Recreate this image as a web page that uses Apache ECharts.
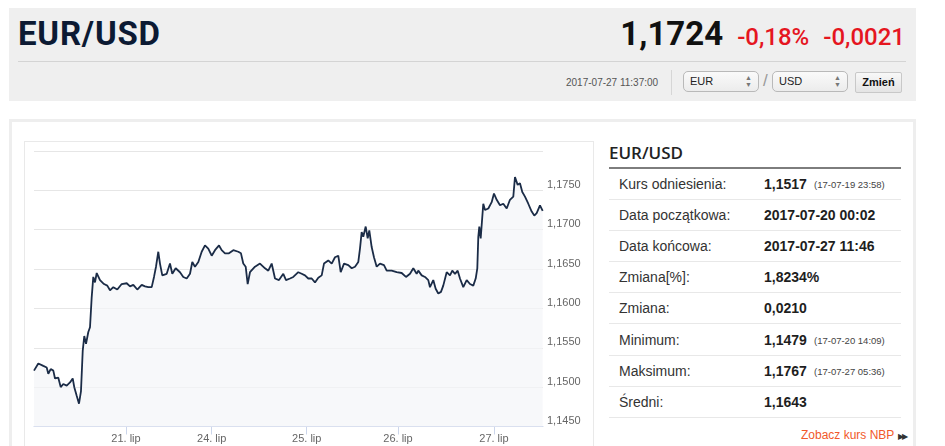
<!DOCTYPE html>
<html>
<head>
<meta charset="utf-8">
<script src="https://cdn.jsdelivr.net/npm/echarts@6/dist/echarts.min.js"></script>
<style>
  html, body { margin:0; padding:0; background:#fff; width:945px; height:446px; overflow:hidden; font-family:"Liberation Sans", Arial, sans-serif; }
  .abs { position:absolute; }
  #hdr { left:9px; top:8px; width:907px; height:93px; background:#efefef; }
  #title { left:18px; top:14px; font-family:Roboto, "Liberation Sans", sans-serif; font-weight:700; font-size:33px; color:#0c1a33; letter-spacing:0.8px; }
  #price { right:40px; top:14px; font-family:Roboto, "Liberation Sans", sans-serif; font-size:33px; white-space:nowrap; }
  #price .v { color:#111; font-weight:700; }
  #price .r { color:#e5161f; font-size:24px; font-weight:500; margin-left:14px; }
  #sep { left:18px; top:61px; width:888px; height:1px; background:#d4d4d4; }
  #stamp { left:566px; top:77px; font-size:10px; color:#555; }
  #vsep { left:671px; top:70px; width:1px; height:25px; background:#d6d6d6; }
  .sel { top:71px; height:21px; border:1px solid #b9b9b9; border-radius:5px; background:linear-gradient(#fafafa,#ececec); font-size:11px; color:#222; box-sizing:border-box; }
  .sel span.t { position:absolute; left:6px; top:3px; }
  .sel span.a { position:absolute; right:6px; top:2px; font-size:7px; line-height:7px; color:#777; }
  #slash { left:763px; top:71px; font-size:17px; color:#999; }
  #btn { left:855px; top:72px; width:47px; height:21px; border:1px solid #c8c8c8; border-radius:2px; background:linear-gradient(#f8f8f8,#e4e4e4); font-size:11px; font-weight:700; color:#111; box-sizing:border-box; text-align:center; line-height:19px; }
  #panel { left:9px; top:119px; width:907px; height:340px; border:3px solid #eeeeee; box-sizing:border-box; }
  #chartbox { left:24px; top:141px; width:570px; height:320px; border:1px solid #e9e9e9; box-sizing:border-box; }
  #chart { left:24px; top:141px; width:570px; height:305px; }
  #th { left:609px; top:141px; font-family:"Open Sans", sans-serif; font-weight:600; font-size:17px; color:#222; }
  #thl { left:609px; top:167px; width:292px; height:2px; background:#7d7d7d; }
  .row { left:609px; width:292px; height:31px; border-bottom:1px solid #e8e8e8; box-sizing:border-box; font-size:14px; }
  .row .l { position:absolute; left:10px; top:7px; color:#333; }
  .row .v { position:absolute; left:155px; top:7px; color:#1e1e1e; font-weight:700; }
  .row .p { position:absolute; left:205px; top:10px; color:#444; font-size:9.5px; }
  #nbp { left:801px; top:428px; font-size:12px; color:#f1592a; }
  #nbp span { color:#333; font-size:8px; letter-spacing:-2px; margin-left:4px; }
</style>
</head>
<body>
<div id="hdr" class="abs"></div>
<div id="title" class="abs">EUR/USD</div>
<div id="price" class="abs"><span class="v">1,1724</span><span class="r">-0,18%</span><span class="r">-0,0021</span></div>
<div id="sep" class="abs"></div>
<div id="stamp" class="abs">2017-07-27 11:37:00</div>
<div id="vsep" class="abs"></div>
<div class="abs sel" style="left:683px;width:76px;"><span class="t">EUR</span><span class="a">▲<br>▼</span></div>
<div id="slash" class="abs">/</div>
<div class="abs sel" style="left:772px;width:76px;"><span class="t">USD</span><span class="a">▲<br>▼</span></div>
<div id="btn" class="abs">Zmień</div>

<div id="panel" class="abs"></div>
<div id="chartbox" class="abs"></div>
<div id="chart" class="abs"></div>

<div id="th" class="abs">EUR/USD</div>
<div id="thl" class="abs"></div>
<div id="rows"></div>
<div id="nbp" class="abs">Zobacz kurs NBP<span>▶▶</span></div>

<script>
// Ordinal trading-time position (hours along the axis) and EUR/USD rate
const hours = [0,1.12,2.43,3.31,3.73,4.36,5.04,5.48,6.34,6.97,7.64,8.53,9.39,10.10,10.51,11.14,11.74,12.26,12.71,13.12,13.57,14.17,14.61,15.05,15.47,15.91,16.36,17.22,18.26,19.12,19.83,20.69,21.73,22.88,24.19,25.05,25.91,26.95,28.10,28.96,29.82,30.71,31.31,31.83,32.43,32.87,33.47,34.62,35.48,36.08,36.97,38.09,38.95,39.84,40.70,41.30,42.00,42.87,43.75,44.61,45.47,46.36,47.22,48.27,48.97,49.83,50.87,52.00,53.30,54.00,54.60,55.23,55.75,56.35,57.66,58.96,60.27,61.13,62.01,62.88,63.92,65.04,65.75,66.79,67.65,68.95,69.84,70.70,71.56,72.45,73.31,74.17,75.06,75.66,76.78,77.67,78.53,79.39,80.02,80.88,82.00,82.89,83.75,84.61,85.05,85.49,85.91,86.54,87.06,87.48,88.10,88.70,89.41,90.27,91.31,92.02,93.32,94.63,95.93,97.05,98.10,98.96,99.84,100.26,101.15,102.01,102.87,103.31,104.17,104.80,105.48,106.18,106.78,107.67,108.53,109.13,109.84,110.54,111.14,112.00,112.89,113.75,114.61,115.24,115.66,115.92,116.18,116.54,117.22,117.66,118.53,119.41,120.01,120.72,121.58,122.44,123.33,124.18,125.05,125.49,126.19,126.79,127.40,128.10,128.96,129.85,130.53,131.15,132.01,132.72];
const rates = [1.1521,1.1530,1.1527,1.1525,1.1517,1.1523,1.1521,1.1511,1.1512,1.1500,1.1504,1.1502,1.1506,1.1511,1.1500,1.1489,1.1479,1.1495,1.1546,1.1565,1.1555,1.1570,1.1576,1.1614,1.1640,1.1633,1.1645,1.1636,1.1631,1.1629,1.1623,1.1627,1.1624,1.1631,1.1632,1.1628,1.1630,1.1624,1.1630,1.1628,1.1627,1.1627,1.1640,1.1653,1.1672,1.1657,1.1642,1.1644,1.1657,1.1644,1.1651,1.1646,1.1640,1.1638,1.1644,1.1659,1.1653,1.1659,1.1672,1.1680,1.1676,1.1667,1.1674,1.1680,1.1674,1.1670,1.1670,1.1674,1.1672,1.1670,1.1657,1.1653,1.1631,1.1646,1.1653,1.1657,1.1651,1.1648,1.1657,1.1638,1.1636,1.1644,1.1636,1.1638,1.1640,1.1646,1.1644,1.1642,1.1638,1.1638,1.1633,1.1639,1.1642,1.1657,1.1661,1.1657,1.1665,1.1667,1.1646,1.1657,1.1655,1.1651,1.1653,1.1659,1.1676,1.1697,1.1691,1.1704,1.1689,1.1699,1.1678,1.1665,1.1653,1.1657,1.1655,1.1648,1.1648,1.1646,1.1645,1.1640,1.1644,1.1651,1.1644,1.1648,1.1642,1.1640,1.1636,1.1627,1.1636,1.1625,1.1619,1.1621,1.1629,1.1646,1.1642,1.1648,1.1644,1.1648,1.1638,1.1627,1.1636,1.1631,1.1629,1.1638,1.1651,1.1691,1.1704,1.1689,1.1733,1.1725,1.1727,1.1735,1.1746,1.1738,1.1731,1.1733,1.1727,1.1738,1.1742,1.1767,1.1757,1.1759,1.1748,1.1742,1.1733,1.1723,1.1718,1.1721,1.1731,1.1724];
const tickHours = [24, 46.36, 71.15, 94.96, 120];
const tickLabels = ['21. lip', '24. lip', '25. lip', '26. lip', '27. lip'];
const axisEnd = 132.8;

// Info table
const infoLabels = ['Kurs odniesienia:', 'Data początkowa:', 'Data końcowa:', 'Zmiana[%]:', 'Zmiana:', 'Minimum:', 'Maksimum:', 'Średni:'];
const infoValues = ['1,1517', '2017-07-20 00:02', '2017-07-27 11:46', '1,8234%', '0,0210', '1,1479', '1,1767', '1,1643'];
const infoNotes = ['(17-07-19 23:58)', '', '', '', '', '(17-07-20 14:09)', '(17-07-27 05:36)', ''];

let html = '';
infoLabels.forEach((l, i) => {
  html += '<div class="abs row" style="top:' + (169 + i * 31.1) + 'px"><span class="l">' + l + '</span><span class="v">' + infoValues[i] + '</span>' +
    (infoNotes[i] ? '<span class="p">' + infoNotes[i] + '</span>' : '') + '</div>';
});
document.getElementById('rows').innerHTML = html;

const chart = echarts.init(document.getElementById('chart'), null, { renderer: 'canvas' });
chart.setOption({
  animation: false,
  grid: { left: 10, top: 10, right: 51, bottom: 19.5, containLabel: false },
  xAxis: {
    type: 'value', min: 0, max: axisEnd,
    axisLine: { show: true, lineStyle: { color: '#ccd6eb', width: 1 } },
    axisTick: { show: true, customValues: tickHours, length: 8, lineStyle: { color: '#ccd6eb' } },
    axisLabel: {
      customValues: tickHours, margin: 7, color: '#666', fontSize: 11,
      fontFamily: '"Liberation Sans", Arial, sans-serif',
      formatter: v => { const i = tickHours.findIndex(t => Math.abs(t - v) < 0.01); return i >= 0 ? tickLabels[i] : ''; }
    },
    splitLine: { show: false }
  },
  yAxis: {
    type: 'value', position: 'right', min: 1.145, max: 1.18, interval: 0.005,
    axisLine: { show: false }, axisTick: { show: false },
    splitLine: { lineStyle: { color: '#e6e6e6', width: 1 } },
    axisLabel: {
      showMaxLabel: false, margin: 4, color: '#666', fontSize: 11,
      fontFamily: '"Liberation Sans", Arial, sans-serif',
      verticalAlign: 'bottom',
      formatter: v => v.toFixed(4).replace('.', ',')
    }
  },
  series: [{
    type: 'line',
    data: hours.map((h, i) => [h, rates[i]]),
    showSymbol: false,
    lineStyle: { color: '#1b2c47', width: 1.8 },
    areaStyle: { color: '#f4f5f8', origin: 'start' },
    silent: true
  }]
});
</script>
</body>
</html>
